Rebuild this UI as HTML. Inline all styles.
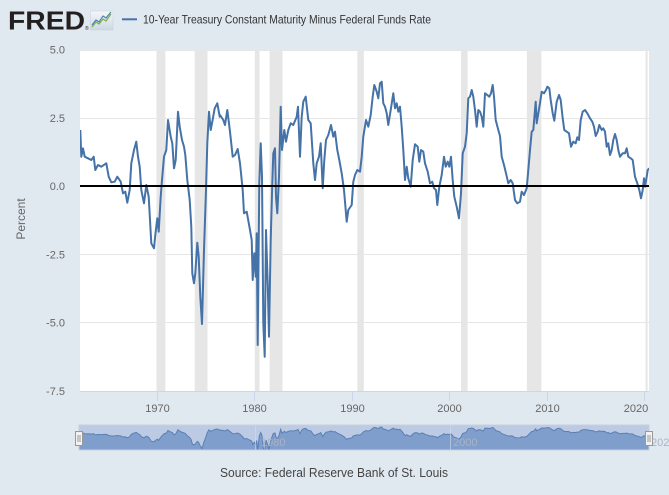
<!DOCTYPE html>
<html><head><meta charset="utf-8"><style>
html,body{margin:0;padding:0;background:#e1e9f0;}
svg{display:block;font-family:"Liberation Sans",Arial,sans-serif;}
</style></head><body>
<svg width="669" height="495" viewBox="0 0 669 495" xmlns="http://www.w3.org/2000/svg">
<defs>
<clipPath id="navclip"><rect x="79" y="425" width="570" height="25"/></clipPath>
<clipPath id="plotclip"><rect x="80" y="50" width="569" height="341"/></clipPath>
<linearGradient id="ig" x1="0" y1="0" x2="0" y2="1"><stop offset="0" stop-color="#f4f7fa"/><stop offset="1" stop-color="#cdd8e3"/></linearGradient>
</defs>
<rect width="669" height="495" fill="#e1e9f0"/>
<!-- header -->
<text x="8" y="29.5" font-size="26" font-weight="bold" fill="#231f20" textLength="77" lengthAdjust="spacingAndGlyphs">FRED</text>
<text x="85" y="30" font-size="5" fill="#231f20">®</text>
<rect x="90.5" y="11" width="22.5" height="19" fill="url(#ig)" stroke="#c5d0da" stroke-width="0.5"/>
<polyline points="92,27 96,22 99,24 103,19 106,21 111,14" fill="none" stroke="#7fb24a" stroke-width="1.3"/>
<polyline points="92,25 96,20 99,22 103,16 106,18 111,12" fill="none" stroke="#4a7ab5" stroke-width="1.1"/>
<line x1="122" y1="19.3" x2="137" y2="19.3" stroke="#4572a7" stroke-width="2"/>
<text x="143" y="23.5" font-size="12" fill="#333" textLength="288" lengthAdjust="spacingAndGlyphs">10-Year Treasury Constant Maturity Minus Federal Funds Rate</text>
<!-- plot bg -->
<rect x="80" y="50" width="569" height="341" fill="#ffffff"/>
<!-- recessions -->
<g fill="#e6e6e6">
<rect x="156.5" y="50" width="8.9" height="341"/>
<rect x="194.7" y="50" width="12.8" height="341"/>
<rect x="254.8" y="50" width="4.7" height="341"/>
<rect x="269.6" y="50" width="12.9" height="341"/>
<rect x="357.3" y="50" width="6.5" height="341"/>
<rect x="461.1" y="50" width="6.5" height="341"/>
<rect x="526.9" y="50" width="14.5" height="341"/>
<rect x="645.6" y="50" width="2" height="341"/>
</g>
<!-- grid -->
<g stroke="#e6e6e6" stroke-width="1">
<line x1="80" y1="50.5" x2="649" y2="50.5"/>
<line x1="80" y1="118.5" x2="649" y2="118.5"/>
<line x1="80" y1="254.5" x2="649" y2="254.5"/>
<line x1="80" y1="322.5" x2="649" y2="322.5"/>
</g>
<!-- axis -->
<line x1="80" y1="391.5" x2="649" y2="391.5" stroke="#ccd6eb" stroke-width="1"/>
<g stroke="#ccd6eb" stroke-width="1">
<line x1="157.5" y1="391" x2="157.5" y2="401"/>
<line x1="254.5" y1="391" x2="254.5" y2="401"/>
<line x1="352.5" y1="391" x2="352.5" y2="401"/>
<line x1="449.5" y1="391" x2="449.5" y2="401"/>
<line x1="547.5" y1="391" x2="547.5" y2="401"/>
<line x1="644.5" y1="391" x2="644.5" y2="401"/>
</g>
<g font-size="11" fill="#666" text-anchor="middle">
<text x="157.5" y="412">1970</text>
<text x="254.5" y="412">1980</text>
<text x="352.5" y="412">1990</text>
<text x="449.5" y="412">2000</text>
<text x="547.5" y="412">2010</text>
<text x="636" y="412">2020</text>
</g>
<g font-size="11" fill="#666" text-anchor="end">
<text x="65" y="53.5">5.0</text>
<text x="65" y="122">2.5</text>
<text x="65" y="190">0.0</text>
<text x="65" y="258.5">-2.5</text>
<text x="65" y="326.5">-5.0</text>
<text x="65" y="395">-7.5</text>
</g>
<text transform="translate(25,219) rotate(-90)" font-size="12" fill="#666" text-anchor="middle">Percent</text>
<!-- series -->
<g clip-path="url(#plotclip)">
<polyline fill="none" stroke="#4572a7" stroke-width="2" stroke-linejoin="round" points="80.3,130 81.3,156.7 83,148.3 84.7,156.7 88,158.3 91.3,160 93.7,156.7 95.3,170 98,165 101.3,166.7 106.3,163.3 108.7,176.7 111.3,182.3 114.7,181.7 117.3,176.7 120.7,181.7 123,193.3 125.3,191.7 127.3,202.7 129.7,190 131.3,163.3 134,150 136.3,141.7 138,156.7 139.7,166.7 141.3,190 144,203.3 146.3,185 148.7,196.7 151.3,243.3 154,248.3 155.3,235 157.3,218.3 158.7,231.7 160.7,196.7 162,180 164,156.7 166.3,150 168,120 170.7,136.7 172.3,143.3 174,168.3 175.7,160 178,111.7 179.7,126.7 182,140 184,146.7 185.3,155 187.3,180 189.7,200 191.3,226.7 192.3,273.3 194,283.3 195.3,273.3 197.3,242.7 198.7,256.7 200.3,296.7 202,324 204,250 206,190 207.3,143.3 209,111.7 210.7,130 212.3,121.7 214.7,108.3 217.3,103.3 219.7,116.7 220,115 223.3,120 225,125 227.3,110 230,131.7 232.7,156.7 235,155 237.7,149 240,163.3 242.7,190 244,213.3 246.7,211.7 250,230 251.7,240 252.7,280 254.3,253.3 255.7,276.7 256.7,233.3 257.7,345 259.3,183.3 260.7,143.3 262,176.7 263.3,323.3 264.7,356.7 266,230 267.7,283.3 269,336.7 270.7,240 272.3,183.3 273.3,153.3 275,148.3 276,196.7 277.3,213.3 279,176.7 280.7,106.7 282,150 284.3,130 286,141.7 288.3,130 290.7,123.3 293.3,125 296.7,116.7 298,106.7 300,156.7 301.7,116.7 303.3,101.7 305.7,96.7 308.3,120 310.7,123.3 313.3,163.3 315,180 316.7,163.3 319,156.7 320.7,143.3 322.7,188.3 324.3,160 326,140 328.3,135 331,125 333.3,136.7 335,131.7 337.3,150 339.3,160 341.7,173.3 344,190 346.7,221.7 348.3,210 351.7,205 353.3,181.7 355,175 357.3,170 360,171.7 361.7,156.7 363.3,136.7 366,120 368.3,126.7 370.7,115 372.7,96.7 374.3,85 376.7,91.7 378.3,98.3 380,83.3 381.7,81.7 383.3,103.3 385,106.7 386.7,113.3 388.3,125 390.7,110 393.3,93.3 395,108.3 396.7,103.3 398.3,111.7 400,106.7 401.7,126.7 403.3,150 405,180 406.7,166.7 408.3,178.3 410.7,186.7 412.7,160 415,144.3 417.7,146.7 419.3,161.7 421,150 423.3,151.7 425,163.3 427.7,171.7 430,183.3 432.3,181.7 434,188.3 436,190 437.3,205 439.3,186.7 441.7,175 444,156.7 445.7,166.7 447.7,161.7 449.3,166.7 451,156.7 452.7,180 454.3,196.7 456.7,206.7 459,218.3 461,193.3 462.7,153.3 465,146.7 466.7,133.3 468.3,98.3 470,96.7 471.7,90 473.3,96.7 475,110 476.7,126.7 478.3,110 480,111.7 481.7,116.7 483.3,126.7 485,93.3 487.3,95 489.3,96.7 491,93.3 492.7,85 494,96.7 495.7,120 498.3,130 500,136 501.7,156.7 504,165 506,173.3 508.3,183.3 510.7,180 512.7,183.3 515,200 517.3,203.3 520,201.7 521.7,191.7 524,195 526.7,188.3 528.3,170 530,150 531.7,131.7 533.3,130 535,110 535.7,101.7 536.7,123.3 538.3,113.3 540,103.3 541.7,91.7 544,93.3 546,90 547.3,86.7 549.3,88.3 550.7,100 552.7,113.3 554.3,120.7 556.7,101.7 559,95 560.7,100 562.7,118.3 564.3,130 566.7,131.7 569,133.3 571,146.7 573.3,141.7 575.7,143.3 577.3,137.3 579,140 580.7,120 582.7,111.7 585,110 587.3,113.3 590,118.3 592.3,121.7 594,126.7 595.7,136 597.7,131.7 599.3,125 601.7,130 603.3,128.3 605,131.7 606.7,146.7 608.3,143.3 610,155 611.7,150 613.3,140 615,134 616.7,140 618.3,150 620,156.7 622.7,153.3 625,153.3 626.7,148.3 628.3,156.7 630.7,158.3 632.7,160 635,176.7 637.3,183.3 639.3,190 641,198.3 642.7,190 644,178.3 645,186.7 646.7,176.7 647.7,170 649.3,168.3"/>
</g>
<!-- zero line -->
<line x1="80" y1="186" x2="649" y2="186" stroke="#000" stroke-width="2"/>
<!-- navigator -->
<rect x="79" y="425" width="570" height="25" fill="#bccbe3"/>
<g clip-path="url(#navclip)">
<g transform="matrix(1 0 0 0.088 0 419.94)">
<polygon fill="#809ecb" stroke="none" points="79,130 80.3,130 81.3,156.7 83,148.3 84.7,156.7 88,158.3 91.3,160 93.7,156.7 95.3,170 98,165 101.3,166.7 106.3,163.3 108.7,176.7 111.3,182.3 114.7,181.7 117.3,176.7 120.7,181.7 123,193.3 125.3,191.7 127.3,202.7 129.7,190 131.3,163.3 134,150 136.3,141.7 138,156.7 139.7,166.7 141.3,190 144,203.3 146.3,185 148.7,196.7 151.3,243.3 154,248.3 155.3,235 157.3,218.3 158.7,231.7 160.7,196.7 162,180 164,156.7 166.3,150 168,120 170.7,136.7 172.3,143.3 174,168.3 175.7,160 178,111.7 179.7,126.7 182,140 184,146.7 185.3,155 187.3,180 189.7,200 191.3,226.7 192.3,273.3 194,283.3 195.3,273.3 197.3,242.7 198.7,256.7 200.3,296.7 202,324 204,250 206,190 207.3,143.3 209,111.7 210.7,130 212.3,121.7 214.7,108.3 217.3,103.3 219.7,116.7 220,115 223.3,120 225,125 227.3,110 230,131.7 232.7,156.7 235,155 237.7,149 240,163.3 242.7,190 244,213.3 246.7,211.7 250,230 251.7,240 252.7,280 254.3,253.3 255.7,276.7 256.7,233.3 257.7,345 259.3,183.3 260.7,143.3 262,176.7 263.3,323.3 264.7,356.7 266,230 267.7,283.3 269,336.7 270.7,240 272.3,183.3 273.3,153.3 275,148.3 276,196.7 277.3,213.3 279,176.7 280.7,106.7 282,150 284.3,130 286,141.7 288.3,130 290.7,123.3 293.3,125 296.7,116.7 298,106.7 300,156.7 301.7,116.7 303.3,101.7 305.7,96.7 308.3,120 310.7,123.3 313.3,163.3 315,180 316.7,163.3 319,156.7 320.7,143.3 322.7,188.3 324.3,160 326,140 328.3,135 331,125 333.3,136.7 335,131.7 337.3,150 339.3,160 341.7,173.3 344,190 346.7,221.7 348.3,210 351.7,205 353.3,181.7 355,175 357.3,170 360,171.7 361.7,156.7 363.3,136.7 366,120 368.3,126.7 370.7,115 372.7,96.7 374.3,85 376.7,91.7 378.3,98.3 380,83.3 381.7,81.7 383.3,103.3 385,106.7 386.7,113.3 388.3,125 390.7,110 393.3,93.3 395,108.3 396.7,103.3 398.3,111.7 400,106.7 401.7,126.7 403.3,150 405,180 406.7,166.7 408.3,178.3 410.7,186.7 412.7,160 415,144.3 417.7,146.7 419.3,161.7 421,150 423.3,151.7 425,163.3 427.7,171.7 430,183.3 432.3,181.7 434,188.3 436,190 437.3,205 439.3,186.7 441.7,175 444,156.7 445.7,166.7 447.7,161.7 449.3,166.7 451,156.7 452.7,180 454.3,196.7 456.7,206.7 459,218.3 461,193.3 462.7,153.3 465,146.7 466.7,133.3 468.3,98.3 470,96.7 471.7,90 473.3,96.7 475,110 476.7,126.7 478.3,110 480,111.7 481.7,116.7 483.3,126.7 485,93.3 487.3,95 489.3,96.7 491,93.3 492.7,85 494,96.7 495.7,120 498.3,130 500,136 501.7,156.7 504,165 506,173.3 508.3,183.3 510.7,180 512.7,183.3 515,200 517.3,203.3 520,201.7 521.7,191.7 524,195 526.7,188.3 528.3,170 530,150 531.7,131.7 533.3,130 535,110 535.7,101.7 536.7,123.3 538.3,113.3 540,103.3 541.7,91.7 544,93.3 546,90 547.3,86.7 549.3,88.3 550.7,100 552.7,113.3 554.3,120.7 556.7,101.7 559,95 560.7,100 562.7,118.3 564.3,130 566.7,131.7 569,133.3 571,146.7 573.3,141.7 575.7,143.3 577.3,137.3 579,140 580.7,120 582.7,111.7 585,110 587.3,113.3 590,118.3 592.3,121.7 594,126.7 595.7,136 597.7,131.7 599.3,125 601.7,130 603.3,128.3 605,131.7 606.7,146.7 608.3,143.3 610,155 611.7,150 613.3,140 615,134 616.7,140 618.3,150 620,156.7 622.7,153.3 625,153.3 626.7,148.3 628.3,156.7 630.7,158.3 632.7,160 635,176.7 637.3,183.3 639.3,190 641,198.3 642.7,190 644,178.3 645,186.7 646.7,176.7 647.7,170 649.3,168.3 650,168.3 650,420 79,420"/>
<polyline fill="none" stroke="#5a7fb5" stroke-width="1" vector-effect="non-scaling-stroke" points="80.3,130 81.3,156.7 83,148.3 84.7,156.7 88,158.3 91.3,160 93.7,156.7 95.3,170 98,165 101.3,166.7 106.3,163.3 108.7,176.7 111.3,182.3 114.7,181.7 117.3,176.7 120.7,181.7 123,193.3 125.3,191.7 127.3,202.7 129.7,190 131.3,163.3 134,150 136.3,141.7 138,156.7 139.7,166.7 141.3,190 144,203.3 146.3,185 148.7,196.7 151.3,243.3 154,248.3 155.3,235 157.3,218.3 158.7,231.7 160.7,196.7 162,180 164,156.7 166.3,150 168,120 170.7,136.7 172.3,143.3 174,168.3 175.7,160 178,111.7 179.7,126.7 182,140 184,146.7 185.3,155 187.3,180 189.7,200 191.3,226.7 192.3,273.3 194,283.3 195.3,273.3 197.3,242.7 198.7,256.7 200.3,296.7 202,324 204,250 206,190 207.3,143.3 209,111.7 210.7,130 212.3,121.7 214.7,108.3 217.3,103.3 219.7,116.7 220,115 223.3,120 225,125 227.3,110 230,131.7 232.7,156.7 235,155 237.7,149 240,163.3 242.7,190 244,213.3 246.7,211.7 250,230 251.7,240 252.7,280 254.3,253.3 255.7,276.7 256.7,233.3 257.7,345 259.3,183.3 260.7,143.3 262,176.7 263.3,323.3 264.7,356.7 266,230 267.7,283.3 269,336.7 270.7,240 272.3,183.3 273.3,153.3 275,148.3 276,196.7 277.3,213.3 279,176.7 280.7,106.7 282,150 284.3,130 286,141.7 288.3,130 290.7,123.3 293.3,125 296.7,116.7 298,106.7 300,156.7 301.7,116.7 303.3,101.7 305.7,96.7 308.3,120 310.7,123.3 313.3,163.3 315,180 316.7,163.3 319,156.7 320.7,143.3 322.7,188.3 324.3,160 326,140 328.3,135 331,125 333.3,136.7 335,131.7 337.3,150 339.3,160 341.7,173.3 344,190 346.7,221.7 348.3,210 351.7,205 353.3,181.7 355,175 357.3,170 360,171.7 361.7,156.7 363.3,136.7 366,120 368.3,126.7 370.7,115 372.7,96.7 374.3,85 376.7,91.7 378.3,98.3 380,83.3 381.7,81.7 383.3,103.3 385,106.7 386.7,113.3 388.3,125 390.7,110 393.3,93.3 395,108.3 396.7,103.3 398.3,111.7 400,106.7 401.7,126.7 403.3,150 405,180 406.7,166.7 408.3,178.3 410.7,186.7 412.7,160 415,144.3 417.7,146.7 419.3,161.7 421,150 423.3,151.7 425,163.3 427.7,171.7 430,183.3 432.3,181.7 434,188.3 436,190 437.3,205 439.3,186.7 441.7,175 444,156.7 445.7,166.7 447.7,161.7 449.3,166.7 451,156.7 452.7,180 454.3,196.7 456.7,206.7 459,218.3 461,193.3 462.7,153.3 465,146.7 466.7,133.3 468.3,98.3 470,96.7 471.7,90 473.3,96.7 475,110 476.7,126.7 478.3,110 480,111.7 481.7,116.7 483.3,126.7 485,93.3 487.3,95 489.3,96.7 491,93.3 492.7,85 494,96.7 495.7,120 498.3,130 500,136 501.7,156.7 504,165 506,173.3 508.3,183.3 510.7,180 512.7,183.3 515,200 517.3,203.3 520,201.7 521.7,191.7 524,195 526.7,188.3 528.3,170 530,150 531.7,131.7 533.3,130 535,110 535.7,101.7 536.7,123.3 538.3,113.3 540,103.3 541.7,91.7 544,93.3 546,90 547.3,86.7 549.3,88.3 550.7,100 552.7,113.3 554.3,120.7 556.7,101.7 559,95 560.7,100 562.7,118.3 564.3,130 566.7,131.7 569,133.3 571,146.7 573.3,141.7 575.7,143.3 577.3,137.3 579,140 580.7,120 582.7,111.7 585,110 587.3,113.3 590,118.3 592.3,121.7 594,126.7 595.7,136 597.7,131.7 599.3,125 601.7,130 603.3,128.3 605,131.7 606.7,146.7 608.3,143.3 610,155 611.7,150 613.3,140 615,134 616.7,140 618.3,150 620,156.7 622.7,153.3 625,153.3 626.7,148.3 628.3,156.7 630.7,158.3 632.7,160 635,176.7 637.3,183.3 639.3,190 641,198.3 642.7,190 644,178.3 645,186.7 646.7,176.7 647.7,170 649.3,168.3"/>
</g>
</g>
<g stroke="#d3dcea" stroke-opacity="0.6" stroke-width="1">
<line x1="255.5" y1="425" x2="255.5" y2="450"/>
<line x1="450.5" y1="425" x2="450.5" y2="450"/>
</g>
<g font-size="11" fill="#a9b3c4">
<text x="261" y="446">1980</text>
<text x="453" y="446">2000</text>
<text x="651" y="446">2020</text>
</g>
<rect x="79" y="425" width="570" height="25" fill="none" stroke="#c6cfdc" stroke-width="1"/>
<!-- handles -->
<g>
<rect x="75.5" y="431.5" width="7" height="14" fill="#f2f2f2" stroke="#999" stroke-width="1"/>
<line x1="78" y1="435" x2="78" y2="442" stroke="#999" stroke-width="1"/>
<line x1="80" y1="435" x2="80" y2="442" stroke="#999" stroke-width="1"/>
<rect x="645.5" y="431.5" width="7" height="14" fill="#f2f2f2" stroke="#999" stroke-width="1"/>
<line x1="648" y1="435" x2="648" y2="442" stroke="#999" stroke-width="1"/>
<line x1="650" y1="435" x2="650" y2="442" stroke="#999" stroke-width="1"/>
</g>
<text x="334" y="477" font-size="13" fill="#444" text-anchor="middle" textLength="228" lengthAdjust="spacingAndGlyphs">Source: Federal Reserve Bank of St. Louis</text>
</svg>
</body></html>
